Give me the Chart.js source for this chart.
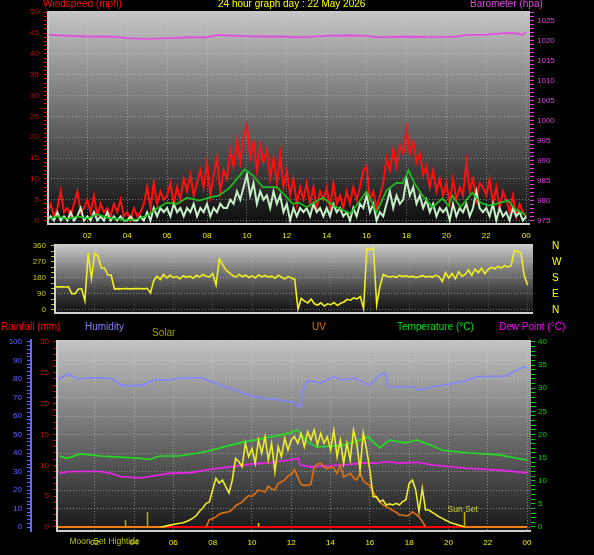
<!DOCTYPE html>
<html>
<head>
<meta charset="utf-8">
<title>24 hour graph</title>
<script src="https://cdn.jsdelivr.net/npm/chart.js@4.4.1/dist/chart.umd.min.js"></script>
<style>
  html, body { margin: 0; padding: 0; background: #000; }
  body { position: relative; width: 594px; height: 555px; overflow: hidden; }
  canvas { position: absolute; left: 0; }
</style>
</head>
<body>
<canvas id="windChart" width="594" height="245" style="top:0"></canvas>
<canvas id="dirChart" width="594" height="95" style="top:230px"></canvas>
<canvas id="sunChart" width="594" height="237" style="top:318px"></canvas>
<script>
// ---- data (hours since midnight) ----
// 10 minute samples, 00:00 .. 24:00
const hours10 = Array.from({ length: 145 }, (_, i) => i / 6);

const windGust = [
  2, 4, 1, 3, 7, 2,   3, 1, 4, 7, 2, 3,   5, 2, 6, 1, 4, 2,   3, 1, 4, 2, 5, 1,
  2, 0, 3, 1, 2, 4,   8, 3, 9, 4, 7, 5,   6, 9, 4, 8, 5, 10,  7, 11, 6, 9, 12, 8,
  14, 6, 11, 15, 7, 12,  10, 17, 13, 19, 14, 20,  23, 15, 19, 12, 18, 14,  17, 10, 15, 9, 16, 8,
  12, 6, 10, 4, 8, 5,  9, 4, 8, 3, 7, 5,  8, 3, 9, 4, 6, 3,  7, 4, 8, 5, 8, 12,
  13, 5, 7, 3, 6, 9,  15, 12, 17, 13, 18, 16,  22, 16, 19, 14, 16, 11,  13, 8, 12, 7, 10, 6,
  9, 4, 10, 5, 8, 6,  14, 7, 10, 5, 9, 8,  6, 10, 4, 8, 3, 7,  5, 2, 6, 1, 4, 2,
  1
];
const windSpeed = [
  0, 1, 0, 2, 0, 1,  0, 2, 0, 1, 3, 0,  1, 0, 2, 0, 1, 0,  2, 0, 1, 0, 1, 0,
  0, 1, 0, 0, 1, 0,  2, 0, 3, 1, 3, 2,  3, 1, 4, 2, 3, 1,  3, 2, 4, 1, 3, 2,
  4, 1, 3, 2, 4, 3,  3, 5, 4, 7, 5, 8,  11, 6, 9, 4, 7, 5,  6, 3, 7, 4, 6, 2,
  4, 0, 3, 1, 3, 2,  3, 1, 4, 2, 3, 1,  3, 1, 4, 2, 3, 1,  2, 0, 3, 1, 4, 3,
  6, 2, 4, 0, 2, 1,  4, 7, 3, 6, 4, 5,  10, 6, 8, 4, 6, 3,  5, 2, 4, 1, 3, 2,
  3, 0, 4, 1, 3, 2,  4, 1, 3, 7, 3, 2,  3, 1, 4, 0, 3, 1,  2, 0, 3, 1, 2, 0,
  1
];
const avgTimes = [0, 0.5, 1, 1.5, 2, 2.5, 3, 3.5, 4, 4.5, 5, 5.5, 6, 6.5, 7, 7.6, 8.1, 8.6, 9.1, 9.5, 9.9,
  10.3, 10.8, 11.5, 11.8, 12.3, 12.6, 13, 13.8, 14.3, 15.2, 16, 16.5, 17, 17.5, 17.8, 18.1, 18.4, 18.8,
  19.3, 19.8, 20.1, 20.3, 20.7, 21.3, 21.7, 22.1, 22.5, 23.1, 23.4, 24];
const avgWind = [0.3, 1, 0.4, 1, 0.5, 1.5, 0.7, 0.4, 0.1, 0.3, 1.2, 2.9, 4.3, 4, 5.5, 4.8, 5.5, 6, 7.7, 10, 12.3,
  10.8, 8, 8, 6.5, 4, 4.3, 3.2, 5.5, 3.6, 1.7, 7, 2, 7.2, 9.1, 8.9, 12, 8.9, 6,
  3.2, 5.3, 3.6, 6, 3.2, 6.7, 4.3, 3.6, 4, 4.8, 2.9, 1.2];
const baroTimes = [0, 1, 2, 3, 3.5, 4, 5, 6, 7, 8, 8.5, 9, 10, 11, 12, 12.5, 13, 14, 15, 16, 16.5, 17, 18, 19,
  20, 20.5, 21, 22, 22.5, 23, 23.5, 23.8, 24];
const baro = [1021.5, 1021.2, 1021.0, 1021.0, 1020.9, 1020.6, 1020.4, 1020.6, 1020.8, 1020.8, 1021.4, 1021.3,
  1021.1, 1021.0, 1021.0, 1020.8, 1020.9, 1021.2, 1021.3, 1021.2, 1020.8, 1020.9, 1021.0, 1020.9,
  1020.9, 1021.0, 1021.4, 1021.5, 1021.7, 1021.9, 1021.8, 1021.5, 1022.1];

const windDir = [
  130, 131, 130, 129, 130, 92,   92, 118, 119, 52, 320, 178,   318, 305, 236, 236, 197, 197,
  118, 120, 119, 121, 120, 119,  120, 121, 120, 119, 122, 96,   165, 190, 172, 200, 180, 195,
  182, 188, 176, 192, 184, 190,  178, 195, 185, 200, 190, 186,  205, 140, 287, 255, 225, 210,
  195, 185, 200, 188, 196, 183,  192, 180, 198, 186, 194, 185,  190, 178, 196, 184, 175, 188,
  180, 172, 5, 65, 50, 40,       62, 35, 28, 40, 22, 35,        30, 42, 25, 38, 45, 60,
  55, 68, 62, 75, 8, 345,        338, 350, 30, 135, 200, 190,   186, 190, 183, 195, 188, 192,
  185, 190, 182, 188, 193, 186,  190, 185, 195, 188, 160, 210,  180, 205, 175, 215, 190, 200,
  225, 195, 230, 210, 235, 205,  228, 240, 232, 245, 236, 250,  242, 248, 335, 330, 322, 195,
  141
];

const humTimes = [0.1, 0.6, 0.9, 1.25, 1.6, 2.3, 2.9, 3.3, 3.8, 4.5, 5, 5.8, 6.3, 7.4, 7.7, 8.4, 9.1, 9.7,
  10.2, 10.9, 11.7, 12.2, 12.35, 12.45, 12.6, 12.8, 13.2, 13.5, 14.1, 14.7, 15.2, 15.7, 16, 16.5, 16.8,
  16.9, 17.5, 18.3, 18.5, 19.1, 20.1, 20.9, 21.4, 22.9, 23.2, 23.7, 23.9, 24];
const humidity = [79.5, 82.7, 81.2, 80, 80.5, 80.7, 80, 76.8, 76.2, 76.8, 79.5, 79.5, 80.5, 80.7, 79.5, 76.8, 74, 71.9,
  70.2, 69.2, 68.3, 67.2, 64.9, 65, 74, 79, 78.5, 77.8, 81.2, 79.5, 80.5, 78, 76.8, 82.2, 83.2,
  75.8, 75.8, 75.7, 74, 75.7, 77.3, 79, 81.2, 81.6, 83.2, 86, 86.6, 86];
const tempTimes = [0.2, 0.6, 1.25, 2.3, 3.3, 4.3, 4.8, 5.3, 6.3, 7.4, 8, 8.9, 9.6, 10.4, 11.2, 11.9, 12.3, 12.45,
  12.8, 13.3, 14.6, 15.5, 15.9, 16.5, 17, 17.8, 18.4, 19.1, 19.7, 21.1, 22.6, 23.4, 24];
const temperature = [15.35, 14.85, 15.8, 15.35, 15.1, 14.85, 14.6, 15.35, 15.35, 16.1, 16.65, 17.7, 18.4, 19, 19.7, 20.3, 21, 20.3,
  18.4, 17.3, 17.6, 18.8, 19.5, 17.1, 18.8, 18.2, 18.8, 17.7, 16.6, 16, 15.6, 14.9, 14.5];
const dewTimes = [0.2, 0.6, 1.3, 2.3, 2.8, 3.3, 4.3, 4.8, 5.8, 6.9, 7.9, 8.9, 9.9, 10.9, 11.9, 12.35, 12.45, 13,
  14.6, 15.6, 16.3, 16.9, 17.5, 18.4, 19.2, 20.9, 22.6, 24];
const dewPoint = [11.6, 11.95, 12, 12, 11.6, 10.9, 10.6, 10.9, 11.6, 11.75, 12.5, 13, 13.6, 13.9, 14.5, 14.85, 13.4, 13,
  13.4, 13.8, 13.8, 14.1, 13.8, 14, 13.4, 12.7, 12.3, 11.7];

// solar W/m2, 10 minute samples
const solar = [
  0, 0, 0, 0, 0, 0,  0, 0, 0, 0, 0, 0,  0, 0, 0, 0, 0, 0,  0, 0, 0, 0, 0, 0,  0, 0, 0, 0, 0, 0,
  0, 0, 0, 2, 6, 10,  14, 18, 20, 23, 30, 38,  48, 62, 85, 103, 128, 135,
  200, 263, 238, 254, 218, 184,  254, 371, 353, 326, 452, 380,  425, 344, 470, 398, 488, 362,
  452, 299, 434, 380, 479, 416,  470, 488, 452, 506, 434, 515,  470, 524, 443, 506, 452, 488,
  416, 524, 380, 470, 344, 452,  362, 524, 452, 308, 510, 420,  308, 164, 164, 137, 146, 119,
  125, 119, 128, 119, 137, 146,  236, 254, 200, 83, 209, 92,   92, 80, 70, 56, 48, 38,
  29, 22, 16, 11, 6, 0,  0, 0, 0, 0, 0, 0,  0, 0, 0, 0, 0, 0,  0, 0, 0, 0, 0, 0,
  0
];
// UV index, 10 minute samples (null = not recorded)
const uvIndex = [
  null, null, null, null, null, null,  null, null, null, null, null, null,  null, null, null, null, null, null,
  null, null, null, null, null, null,  null, null, null, null, null, null,  null, null, null, null, null, null,
  null, null, null, null, null, null,  null, null, null, null, 0, 0.8,
  0.9, 1.1, 1.4, 1.5, 1.6, 1.65,  1.9, 2.3, 2.5, 2.7, 3.1, 3.4,  3.3, 3.6, 4.0, 3.9, 3.8, 4.4,
  4.1, 4.0, 4.7, 4.9, 5.1, 5.5,  5.7, 6.2, 5.4, 4.6, 4.5, 4.5,  4.6, 6.5, 6.8, 6.9, 6.5, 6.3,
  6.5, 6.4, 5.8, 6.7, 5.4, 5.6,  5.8, 5.3, 5.1, 5.8, 5.0, 4.7,  4.5, 3.8, 3.2, 2.7, 2.4, 2.2,
  2.0, 1.8, 1.6, 1.3, 1.3, 1.2,  1.3, 1.65, 1.4, 1.1, 0.6, 0,
  null, null, null, null, null, null,  null, null, null, null, null, null,  null, null, null, null, null, null,
  null, null, null, null, null, null,  null, null, null, null, null, null,  null
];
const rainTimes = [0, 6, 12, 18, 24];
const rainfall = [0, 0, 0, 0, 0];

const eventNames = ['Moon Set', 'Hightide', 'Sun Set', ''];
const eventTimes = [3.54, 4.66, 20.8, 10.3];

const hourTicks = [2, 4, 6, 8, 10, 12, 14, 16, 18, 20, 22, 24];
const compass = { 0: 'N', 90: 'E', 180: 'S', 270: 'W', 360: 'N' };

// ---- helpers ----
const FONT = "'Liberation Sans', Arial, sans-serif";
const GRID_DOT = 'rgba(215,215,215,0.5)';
const NONE = 'rgba(0,0,0,0)';

function series(times, values, color, axis, width) {
  return {
    data: times.map((t, i) => ({ x: t, y: values[i] })),
    yAxisID: axis, borderColor: color, borderWidth: width || 1.5,
    pointRadius: 0, fill: false, tension: 0
  };
}

const isMajor = (v, step) => Math.abs(v / step - Math.round(v / step)) < 1e-6;
function tickList(from, to, step) {
  const t = [];
  for (let v = from; v <= to + 1e-9; v += step) t.push({ value: +v.toFixed(4) });
  return t;
}

function valueAxis(o) {
  return {
    type: 'linear', position: o.position, weight: o.weight || 0,
    min: o.min, max: o.max,
    afterFit: s => { s.width = o.width; },
    afterBuildTicks: s => { s.ticks = tickList(o.from, o.to, o.minor); },
    ticks: {
      autoSkip: false, color: o.color, padding: o.padding,
      font: { family: FONT, size: o.size || 8 },
      callback: v => isMajor(v, o.major) ? (o.fmt ? o.fmt(v) : String(v)) : ''
    },
    grid: {
      drawOnChartArea: !!o.grid,
      color: c => (c.tick && isMajor(c.tick.value, o.major)) ? GRID_DOT : NONE,
      tickColor: o.tickColor || o.color,
      tickLength: o.tickLength === undefined ? 4 : o.tickLength
    },
    border: { display: !!o.border, color: o.tickColor || o.color, width: 2, dash: [1, 2] }
  };
}

function timeAxis(o) {
  return {
    type: 'linear', position: 'bottom', min: o.min, max: o.max,
    afterFit: s => { s.height = o.height; },
    afterBuildTicks: s => { s.ticks = hourTicks.map(v => ({ value: v })); },
    ticks: {
      display: o.labels, autoSkip: false, maxRotation: 0, color: '#f0f000', padding: o.padding || 0,
      font: { family: FONT, size: 8 },
      callback: v => String(v % 24).padStart(2, '0')
    },
    grid: { drawTicks: false, color: o.gridColor || GRID_DOT },
    border: { display: false, dash: [1, 2] }
  };
}

// gradient plot background + light frame on left and bottom
const panelBg = {
  id: 'panelBg',
  beforeDraw(chart, args, opts) {
    const { ctx, chartArea: a } = chart;
    const g = ctx.createLinearGradient(0, a.top, 0, a.bottom);
    opts.stops.forEach(s => g.addColorStop(s[0], s[1]));
    ctx.save();
    ctx.fillStyle = g;
    ctx.fillRect(a.left, a.top, a.right - a.left, a.bottom - a.top);
    ctx.restore();
  },
  afterDraw(chart) {
    const { ctx, chartArea: a } = chart;
    ctx.save();
    ctx.strokeStyle = '#d0d0d0';
    ctx.lineWidth = 2;
    ctx.beginPath();
    ctx.moveTo(a.left, a.top);
    ctx.lineTo(a.left, a.bottom);
    ctx.lineTo(a.right, a.bottom);
    ctx.stroke();
    ctx.restore();
  }
};

// header texts
const captions = {
  id: 'captions',
  afterDraw(chart, args, opts) {
    const ctx = chart.ctx;
    ctx.save();
    ctx.textBaseline = 'alphabetic';
    opts.items.forEach(it => {
      ctx.font = (it.size || 10) + 'px ' + FONT;
      ctx.fillStyle = it.color;
      ctx.fillText(it.text, it.x, it.y);
    });
    ctx.restore();
  }
};

// moon / tide / sun markers on the bottom panel
const eventMarks = {
  id: 'eventMarks',
  afterDatasetsDraw(chart, args, opts) {
    const { ctx, scales } = chart;
    const y0 = scales.yRain.getPixelForValue(0);
    ctx.save();
    eventTimes.forEach((t, i) => {
      const st = opts.styles[i];
      const px = Math.round(scales.x.getPixelForValue(t)) + 0.5;
      ctx.strokeStyle = st.color;
      ctx.lineWidth = 1.5;
      ctx.beginPath();
      ctx.moveTo(px, y0);
      ctx.lineTo(px, y0 - st.len);
      ctx.stroke();
      if (eventNames[i]) {
        ctx.font = '8.5px ' + FONT;
        ctx.fillStyle = st.text;
        ctx.fillText(eventNames[i], px + st.dx, st.ty);
      }
    });
    ctx.restore();
  }
};

const common = {
  responsive: false, animation: false, events: [],
};

// ---- wind + barometer ----
new Chart(document.getElementById('windChart'), {
  type: 'line',
  data: {
    datasets: [
      series(avgTimes, avgWind, '#1ec01e', 'yWind', 1.7),
      series(hours10, windSpeed, '#c8f0c8', 'yWind', 2),
      series(hours10, windGust, '#ff1010', 'yWind', 2),
      series(baroTimes, baro, '#e844e8', 'yBaro', 1.6)
    ]
  },
  options: {
    ...common,
    layout: { padding: { top: 11, left: 0, right: 0, bottom: 0 } },
    plugins: {
      legend: { display: false }, tooltip: { enabled: false },
      panelBg: { stops: [[0, '#c6c6c6'], [0.5, '#6a6a6a'], [1, '#0c0c0c']] },
      captions: {
        items: [
          { text: 'Windspeed (mph)', x: 43, y: 7, color: '#f01010' },
          { text: '24 hour graph day : 22 May 2026', x: 218, y: 7, color: '#ffff00' },
          { text: 'Barometer (hpa)', x: 470, y: 7, color: '#e844e8' }
        ]
      }
    },
    scales: {
      x: timeAxis({ min: 0.03, max: 24.19, height: 21, labels: true, padding: 7 }),
      yWind: valueAxis({ position: 'left', min: -0.84, max: 50.3, width: 48, from: 0, to: 50, minor: 1, major: 5,
        color: '#e00000', padding: 5, grid: true }),
      yBaro: valueAxis({ position: 'right', min: 974.12, max: 1027.4, width: 64, from: 975, to: 1027, minor: 1, major: 5,
        color: '#e040e0', padding: 3 })
    }
  },
  plugins: [panelBg, captions]
});

// ---- wind direction ----
new Chart(document.getElementById('dirChart'), {
  type: 'line',
  data: {
    datasets: [series(hours10, windDir, '#f0f020', 'yDir', 1.6)]
  },
  options: {
    ...common,
    layout: { padding: { top: 14, left: 0, right: 0, bottom: 0 } },
    plugins: {
      legend: { display: false }, tooltip: { enabled: false },
      panelBg: { stops: [[0, '#cccccc'], [0.3, '#8c8c8c'], [0.55, '#5a5a5a'], [0.75, '#333333'], [1, '#111111']] }
    },
    scales: {
      x: timeAxis({ min: -0.02, max: 24.28, height: 12, labels: false, gridColor: 'rgba(215,215,215,0.25)' }),
      yDir: valueAxis({ position: 'left', min: -16.9, max: 371.2, width: 55, from: 0, to: 360, minor: 30, major: 90,
        color: '#c8c800', padding: 5, grid: true }),
      yCompass: valueAxis({ position: 'right', min: -16.9, max: 371.2, width: 61, from: 0, to: 360, minor: 90, major: 90,
        color: '#ffff00', tickColor: NONE, padding: 2, size: 10, tickLength: 17, fmt: v => compass[v] })
    }
  },
  plugins: [panelBg]
});

// ---- rain / humidity / solar / UV / temperature / dew point ----
new Chart(document.getElementById('sunChart'), {
  type: 'line',
  data: {
    datasets: [
      Object.assign(series(hours10, solar, '#ecec28', 'ySolar', 1.6), {
        segment: { borderColor: c => (c.p0.parsed.y === 0 && c.p1.parsed.y === 0) ? '#f0a818' : undefined }
      }),
      series(hours10, uvIndex, '#e07010', 'yUV', 1.6),
      series(tempTimes, temperature, '#20e020', 'yTemp', 1.6),
      series(dewTimes, dewPoint, '#f020f0', 'yTemp', 1.6),
      series(humTimes, humidity, '#8484ff', 'yHum', 1.6),
      series(rainTimes, rainfall, '#ff0000', 'yRain', 2.2)
    ]
  },
  options: {
    ...common,
    layout: { padding: { top: 22, left: 0, right: 0, bottom: 0 } },
    plugins: {
      legend: { display: false }, tooltip: { enabled: false },
      panelBg: { stops: [[0, '#c4c4c4'], [0.5, '#6e6e6e'], [1, '#181818']] },
      captions: {
        items: [
          { text: 'Rainfall (mm)', x: 1, y: 12, color: '#ff0000' },
          { text: 'Humidity', x: 85, y: 11.5, color: '#8080ff' },
          { text: 'Solar', x: 152, y: 18, color: '#a0a000' },
          { text: 'UV', x: 312, y: 12, color: '#e07000' },
          { text: 'Temperature (°C)', x: 397, y: 12, color: '#00e000' },
          { text: 'Dew Point (°C)', x: 499, y: 12, color: '#ff00ff' }
        ]
      },
      eventMarks: {
        styles: [
          { color: '#b0b000', len: 7, text: '#b8c000', dx: -56, ty: 226 },
          { color: '#b0b000', len: 15, text: '#b8c000', dx: -39, ty: 226 },
          { color: '#c8b400', len: 15, text: '#d0d040', dx: -17, ty: 193.5 },
          { color: '#e0d000', len: 4, text: '', dx: 0, ty: 0 }
        ]
      }
    },
    scales: {
      x: timeAxis({ min: 0.08, max: 24.2, height: 24, labels: true, padding: 7 }),
      yHum: valueAxis({ position: 'left', weight: 1, min: -2.16, max: 101.08, width: 31, from: 0, to: 100, minor: 2, major: 10,
        color: '#6868ff', padding: 5, grid: true, border: true }),
      yRain: valueAxis({ position: 'left', weight: 0, min: -0.649, max: 30.32, width: 26, from: 0, to: 30, minor: 1, major: 5,
        color: '#e00000', padding: 4 }),
      yTemp: valueAxis({ position: 'right', min: -0.865, max: 40.43, width: 63, from: 0, to: 40, minor: 1, major: 5,
        color: '#00d800', padding: 3 }),
      ySolar: { type: 'linear', display: false, min: -21.6, max: 1010.8 },
      yUV: { type: 'linear', display: false, min: -0.432, max: 20.22 }
    }
  },
  plugins: [panelBg, captions, eventMarks]
});
</script>
</body>
</html>
